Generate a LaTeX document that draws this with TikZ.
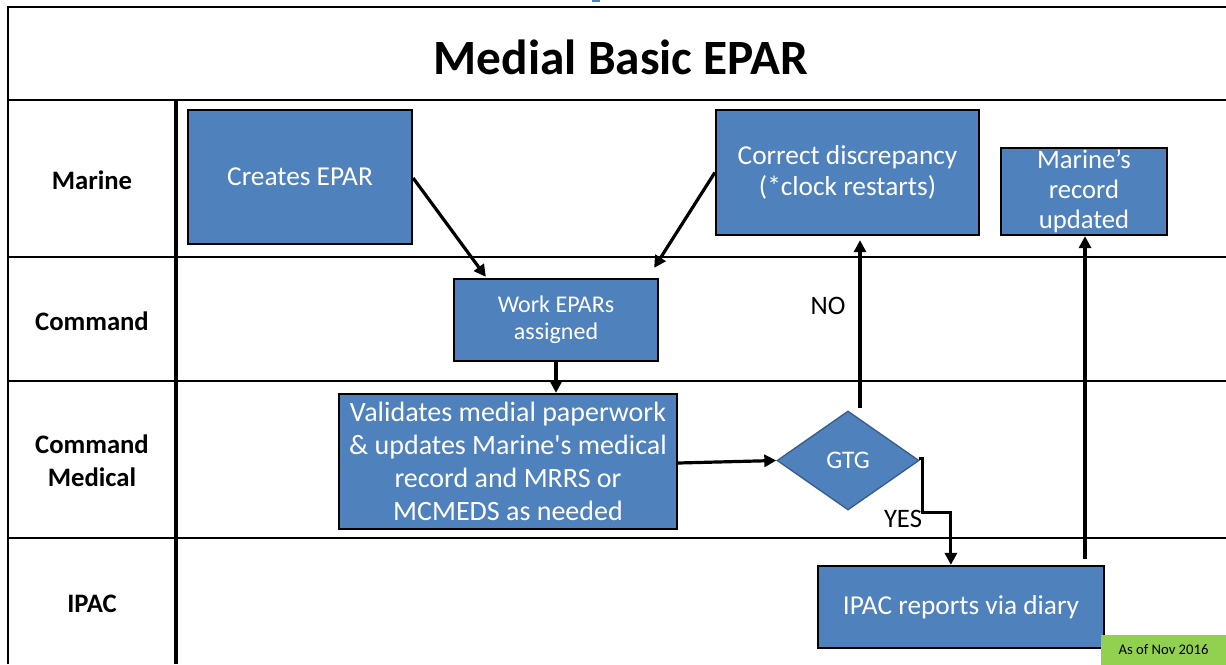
\documentclass[tikz,border=0pt]{standalone}
\usepackage{fontspec}
\setmainfont{Carlito}
\usetikzlibrary{arrows.meta,shapes.geometric,calc}
\definecolor{boxblue}{HTML}{4F81BD}
\definecolor{diaedge}{HTML}{385D8A}
\definecolor{notegreen}{HTML}{92D050}
\begin{document}
\begin{tikzpicture}[x=0.75pt,y=-0.75pt,
  frame/.style={line width=2pt},
  lane/.style={line width=1.6pt},
  procbox/.style={draw=black,line width=1.7pt,fill=boxblue,text=white,align=center,inner sep=0pt},
  btxt/.style={font=\fontsize{20.5}{23.25}\selectfont},
  lanelabel/.style={font=\bfseries\fontsize{20}{24.75}\selectfont,align=center},
  flow/.style={line width=2.4pt,-{Triangle[length=9pt,width=9pt]}},
  plain/.style={font=\fontsize{20}{24}\selectfont}]
\useasboundingbox (0,0) rectangle (1226,664);
\fill[white] (0,0) rectangle (1226,664);
% small cut-off blue mark at top
\fill[boxblue] (592,0) rectangle (600,2);
% frame
\draw[frame] (8,664) -- (8,7) -- (1226,7);
\draw[lane] (8,100) -- (1226,100);
\draw[lane] (8,257) -- (1226,257);
\draw[lane] (8,381) -- (1226,381);
\draw[lane] (8,538) -- (1226,538);
\draw[line width=2.3pt] (176,100) -- (176,664);
% title
\node[font=\bfseries\fontsize{37}{40}\selectfont] (title) at (621,57) {Medial Basic EPAR};
% lane labels
\node[lanelabel] (lmarine) at (92,180) {Marine};
\node[lanelabel] (lcommand) at (92,321) {Command};
\node[lanelabel] (lmedical) at (92,461) {Command\\Medical};
\node[lanelabel] (lipac) at (92,604) {IPAC};
% boxes
\node[procbox,btxt,minimum width=168pt,minimum height=100.5pt] (create) at (300,177) {Creates EPAR};
\node[procbox,btxt,minimum width=197.25pt,minimum height=93.75pt] (correct) at (847.5,172.5) {Correct discrepancy\\(*clock restarts)};
\node[procbox,font=\fontsize{20}{22.5}\selectfont,minimum width=124.5pt,minimum height=65.25pt] (updated) at (1084,191.5) {Marine’s\\record\\updated};
\node[procbox,font=\fontsize{18}{20.25}\selectfont,minimum width=153pt,minimum height=61.5pt] (work) at (556,320) {Work EPARs\\assigned};
\node[procbox,font=\fontsize{21}{24.75}\selectfont,minimum width=253.5pt,minimum height=101.25pt] (valid) at (508,461.5) {Validates medial paperwork\\\& updates Marine\textquotesingle s medical\\record and MRRS or\\MCMEDS as needed};
\node[diamond,draw=diaedge,line width=1pt,fill=boxblue,text=white,inner sep=0pt,minimum width=106.5pt,minimum height=74.25pt,font=\fontsize{19}{22}\selectfont] (gtg) at (848,460.5) {GTG};
\node[procbox,btxt,minimum width=214.5pt,minimum height=61.5pt] (ipac) at (961,607) {IPAC reports via diary};
\node[fill=notegreen,inner sep=0pt,minimum width=93.75pt,minimum height=22.5pt,font=\fontsize{11}{13}\selectfont,text=black] (note) at (1163.5,649.5) {As of Nov 2016};
% labels
\node[plain] (nolabel) at (828,306) {NO};
\node[plain] (yeslabel) at (903,519) {YES};
% connectors
\draw[flow] ($(create.east)+(0,1)$) -- ($(work.north west)+(33,-1)$);
\draw[flow] (correct.west) -- ($(work.north east)+(-5,-10)$);
\draw[flow] (work.south) -- (work.south |- valid.north);
\draw[flow] ($(valid.east)+(0,1.5)$) -- (gtg.west);
\coordinate (nostart) at ($(gtg.north)+(12,-2)$);
\draw[flow] (nostart) -- ($(nostart |- correct.south)+(0,4)$);
\coordinate (yesbend) at ($(ipac.north west)+(134,0)$);
\draw[line width=2.4pt,-{Triangle[length=9pt,width=9pt]}] ($(gtg.east)+(-1,-2)$) -- ++(4,0) -- ++(0,54) -| (yesbend);
\coordinate (upstart) at ($(ipac.north)+(124,-6)$);
\draw[flow] (upstart) -- (upstart |- updated.south);
\end{tikzpicture}
\end{document}
